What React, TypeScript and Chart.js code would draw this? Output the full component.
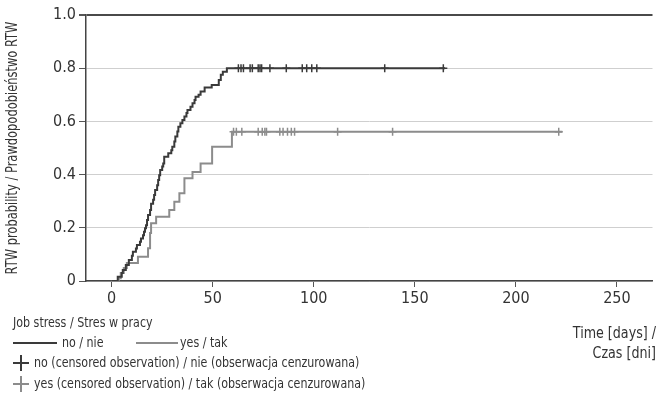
import React, { useEffect, useRef } from "react";
import { Chart, registerables } from "chart.js";

Chart.register(...registerables);

// Kaplan–Meier steps, group "no" (no job stress)
const noTimes = [0, 3, 5, 5.5, 7, 8.5, 10, 10.5, 12, 12.5, 14, 14.5, 15.5, 16, 16.5, 17, 17.5, 18, 19, 19.5, 20.5, 21, 21.5, 22.5, 23, 23.5, 24, 25, 25.5, 26, 28, 29.5, 30, 31, 31.5, 32.5, 33, 34, 35, 36, 37, 37.5, 39, 40, 41, 41.5, 43, 44, 46, 49.5, 53, 54, 55, 57, 165];
const noProb = [0, 0.016, 0.03, 0.041, 0.06, 0.079, 0.095, 0.11, 0.122, 0.135, 0.148, 0.16, 0.172, 0.185, 0.198, 0.21, 0.229, 0.248, 0.267, 0.29, 0.305, 0.323, 0.342, 0.36, 0.38, 0.398, 0.417, 0.43, 0.442, 0.467, 0.48, 0.492, 0.505, 0.524, 0.543, 0.562, 0.58, 0.593, 0.605, 0.618, 0.632, 0.643, 0.655, 0.668, 0.68, 0.693, 0.7, 0.712, 0.727, 0.737, 0.756, 0.775, 0.787, 0.8, 0.8];
const noCensored = [62.7, 64, 65.2, 68.5, 69.6, 72.5, 73.4, 74.2, 78.3, 86.4, 94.3, 96.5, 99, 101.5, 135.1, 164.1];

// group "yes" (job stress)
const yesTimes = [0, 3.5, 4.5, 6, 7.5, 13, 18, 19, 19.5, 22, 28.5, 31, 33.5, 36, 40, 44, 49.7, 59.5, 223];
const yesProb = [0, 0.01, 0.03, 0.049, 0.068, 0.091, 0.123, 0.18, 0.217, 0.242, 0.267, 0.298, 0.33, 0.386, 0.41, 0.442, 0.505, 0.561, 0.561];
const yesCensored = [60.3, 61.7, 64.4, 72.5, 74.5, 75.8, 76.6, 83.2, 84.8, 87, 88.9, 90.5, 111.8, 139, 221.2];

const xTicks = [0, 50, 100, 150, 200, 250];
const yTicks = [0, 0.2, 0.4, 0.6, 0.8, 1.0];

const DARK = "#3a3a3a";
const GRAY = "#8c8c8c";
const TEXT = "#333333";
const FONT = "'Liberation Sans Narrow', 'DejaVu Sans Condensed', 'Roboto Condensed', 'Liberation Sans', sans-serif";

function txt(ctx: CanvasRenderingContext2D, s: string, x: number, y: number, sx: number) {
  ctx.save();
  ctx.translate(x, y);
  ctx.scale(sx, 1);
  ctx.fillText(s, 0, 0);
  ctx.restore();
}

const textPlugin = {
  id: "texts",
  afterDraw(chart: any) {
    const ctx = chart.ctx as CanvasRenderingContext2D;
    ctx.save();
    ctx.fillStyle = TEXT;
    // y axis title
    ctx.save();
    ctx.translate(13, 148);
    ctx.rotate(-Math.PI / 2);
    ctx.font = `15px ${FONT}`;
    ctx.textAlign = "center";
    ctx.textBaseline = "middle";
    txt(ctx, "RTW probability / Prawdopodobieństwo RTW", 0, 0, 0.85);
    ctx.restore();

    // x axis title
    ctx.font = `15px ${FONT}`;
    ctx.textAlign = "right";
    ctx.textBaseline = "middle";
    txt(ctx, "Time [days] /", 656, 334, 0.94);
    txt(ctx, "Czas [dni]", 656, 354, 0.94);

    // legend
    ctx.textAlign = "left";
    ctx.font = `14px ${FONT}`;
    const S = 0.88;
    txt(ctx, "Job stress / Stres w pracy", 13, 323, S);
    ctx.lineWidth = 2;
    ctx.strokeStyle = DARK;
    ctx.beginPath();
    ctx.moveTo(13, 343);
    ctx.lineTo(57, 343);
    ctx.stroke();
    txt(ctx, "no / nie", 62, 343, S);
    ctx.strokeStyle = GRAY;
    ctx.beginPath();
    ctx.moveTo(136, 343);
    ctx.lineTo(178, 343);
    ctx.stroke();
    txt(ctx, "yes / tak", 180, 343, S);

    const plus = (cx: number, cy: number, color: string) => {
      ctx.strokeStyle = color;
      ctx.lineWidth = 2;
      ctx.beginPath();
      ctx.moveTo(cx - 8, cy);
      ctx.lineTo(cx + 8, cy);
      ctx.moveTo(cx, cy - 8);
      ctx.lineTo(cx, cy + 8);
      ctx.stroke();
    };
    plus(21, 363, DARK);
    txt(ctx, "no (censored observation) / nie (obserwacja cenzurowana)", 34, 363, S);
    plus(21, 384, GRAY);
    txt(ctx, "yes (censored observation) / tak (obserwacja cenzurowana)", 34, 384, S);
    ctx.restore();
  },
};

export default function App() {
  const ref = useRef<HTMLCanvasElement>(null);
  useEffect(() => {
    if (!ref.current) return;
    const noLevel = noProb[noProb.length - 1];
    const yesLevel = yesProb[yesProb.length - 1];
    const chart = new Chart(ref.current, {
      type: "line",
      data: {
        datasets: [
          {
            label: "no / nie",
            data: noTimes.map((t, i) => ({ x: t, y: noProb[i] })),
            borderColor: DARK,
            borderWidth: 2,
            stepped: "before",
            pointRadius: 0,
            fill: false,
          },
          {
            label: "yes / tak",
            data: yesTimes.map((t, i) => ({ x: t, y: yesProb[i] })),
            borderColor: GRAY,
            borderWidth: 2,
            stepped: "before",
            pointRadius: 0,
            fill: false,
          },
          {
            label: "no censored",
            data: noCensored.map((t) => ({ x: t, y: noLevel })),
            showLine: false,
            pointStyle: "cross",
            pointRadius: 4,
            borderColor: DARK,
            pointBorderColor: DARK,
            pointBorderWidth: 1.5,
          },
          {
            label: "yes censored",
            data: yesCensored.map((t) => ({ x: t, y: yesLevel })),
            showLine: false,
            pointStyle: "cross",
            pointRadius: 4,
            borderColor: GRAY,
            pointBorderColor: GRAY,
            pointBorderWidth: 1.5,
          },
        ],
      },
      options: {
        animation: false,
        responsive: false,
        maintainAspectRatio: false,
        layout: { padding: { top: 15, right: 0, left: 0, bottom: 0 } },
        plugins: { legend: { display: false }, tooltip: { enabled: false } },
        scales: {
          x: {
            type: "linear",
            min: -12.7,
            max: 267.6,
            afterBuildTicks: (s: any) => {
              s.ticks = xTicks.map((v) => ({ value: v }));
            },
            afterFit: (s: any) => {
              s.height = 117;
            },
            ticks: {
              font: { family: FONT, size: 16 },
              color: TEXT,
              padding: 2,
              maxRotation: 0,
            },
            grid: { drawOnChartArea: false, drawTicks: true, tickLength: 6, color: "#555" },
            border: { color: "#444", width: 1.5 },
          },
          y: {
            type: "linear",
            min: 0,
            max: 1,
            afterBuildTicks: (s: any) => {
              s.ticks = yTicks.map((v) => ({ value: v }));
            },
            afterFit: (s: any) => {
              s.width = 86;
            },
            ticks: {
              font: { family: FONT, size: 16 },
              color: TEXT,
              padding: 3,
              callback: (v: any) => (Number(v) === 0 ? "0" : Number(v).toFixed(1)),
            },
            grid: {
              color: (c: any) => (c.tick && c.tick.value === 1 ? "#4a4a4a" : "#cfcfcf"),
              lineWidth: (c: any) => (c.tick && c.tick.value === 1 ? 2 : 1),
              tickColor: "#555",
              tickLength: 7,
            },
            border: { color: "#444", width: 1.5 },
          },
        },
      },
      plugins: [textPlugin],
    });
    return () => chart.destroy();
  }, []);
  return (
    <div style={{ position: "absolute", left: 0, top: 0, width: 658, height: 398, background: "#fff" }}>
      <canvas ref={ref} width={658} height={398} style={{ width: 658, height: 398, display: "block" }} />
    </div>
  );
}
